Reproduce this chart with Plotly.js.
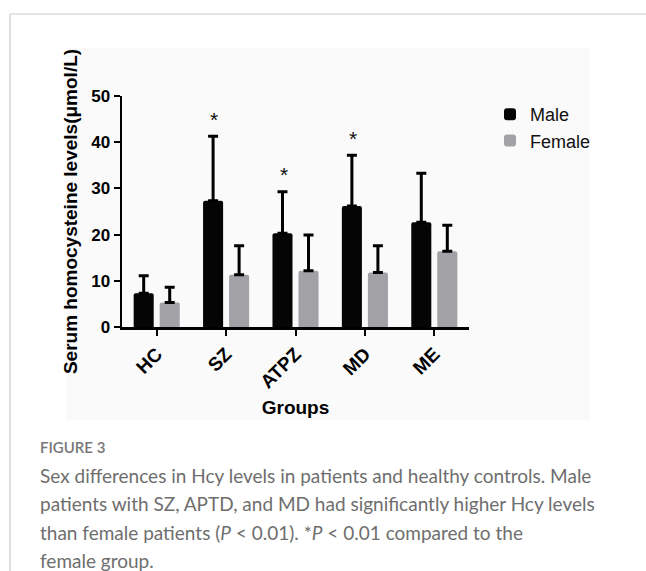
<!DOCTYPE html>
<html>
<head>
<meta charset="utf-8">
<script src="https://cdn.plot.ly/plotly-3.0.1.min.js"></script>
<style>
  html, body { margin: 0; padding: 0; background: #ffffff; }
  #chart { width: 646px; height: 571px; }
</style>
</head>
<body>
<div id="chart"></div>
<script>
// ---- data ----
const categories = ['HC', 'SZ', 'ATPZ', 'MD', 'ME'];
const maleMean   = [7.3, 27.3, 20.3, 26.2, 22.7];
const maleSD     = [3.8, 14.0, 9.0, 11.0, 10.6];
const femaleMean = [5.3, 11.3, 12.2, 11.8, 16.4];
const femaleSD   = [3.3, 6.3, 7.7, 5.8, 5.6];
const significance = ['', '*', '*', '*', ''];
const yTickValues = [0, 10, 20, 30, 40, 50];

const captionLabel = 'FIGURE 3';
const captionLines = [
  'Sex differences in Hcy levels in patients and healthy controls. Male',
  'patients with SZ, APTD, and MD had significantly higher Hcy levels',
  'than female patients (<i>P</i> &lt; 0.01). *<i>P</i> &lt; 0.01 compared to the',
  'female group.'
];

// ---- layout helpers (pixel -> paper) ----
const W = 646, H = 571;
const M = { l: 122, r: 177, t: 96, b: 244 };
const plotW = W - M.l - M.r, plotH = H - M.t - M.b;
const px = x => (x - M.l) / plotW;
const py = y => (H - M.b - y) / plotH;

const boldFont = { family: 'Liberation Sans, Arial, sans-serif', weight: 'bold', color: '#000' };
const zeros = maleSD.map(() => 0);

const traces = [
  {
    type: 'bar', name: 'Male', x: categories, y: maleMean,
    marker: { color: '#050505', cornerradius: 2 },
    error_y: { type: 'data', symmetric: false, array: maleSD, arrayminus: zeros,
               color: '#000', thickness: 3, width: 5 }
  },
  {
    type: 'bar', name: 'Female', x: categories, y: femaleMean,
    marker: { color: '#a2a2a6', cornerradius: 2 },
    error_y: { type: 'data', symmetric: false, array: femaleSD, arrayminus: zeros,
               color: '#000', thickness: 3, width: 5 }
  }
];

const annotations = [];
categories.forEach((c, i) => {
  if (significance[i]) {
    annotations.push({
      x: c, y: maleMean[i] + maleSD[i], xref: 'x', yref: 'y',
      text: significance[i], showarrow: false, xshift: -12, yshift: 17,
      font: { family: 'Liberation Sans, Arial, sans-serif', size: 21, color: '#111' }
    });
  }
});
annotations.push({
  xref: 'paper', yref: 'paper', x: px(38), y: py(447), xanchor: 'left', yanchor: 'middle',
  text: captionLabel, showarrow: false,
  font: { family: 'Lato, Open Sans, sans-serif', size: 15, weight: 600, color: '#777' }
});
captionLines.forEach((t, i) => {
  annotations.push({
    xref: 'paper', yref: 'paper', x: px(38), y: py(475 + i * 28.5), xanchor: 'left', yanchor: 'middle',
    text: t, showarrow: false, align: 'left',
    font: { family: 'Lato, Open Sans, sans-serif', size: 19, color: '#6e6e6e' }
  });
});

const shapes = [
  // faint background of the figure image
  { type: 'rect', xref: 'paper', yref: 'paper', x0: px(66), x1: px(590), y0: py(420), y1: py(48),
    fillcolor: '#fafafa', line: { width: 0 }, layer: 'below' },
  // page frame lines
  { type: 'line', xref: 'paper', yref: 'paper', x0: px(10), x1: px(646), y0: py(14), y1: py(14),
    line: { color: '#cccccc', width: 1.2 } },
  { type: 'line', xref: 'paper', yref: 'paper', x0: px(10), x1: px(10), y0: py(14), y1: py(571),
    line: { color: '#cccccc', width: 1.2 } }
];

const layout = {
  width: W, height: H,
  margin: M,
  paper_bgcolor: '#ffffff',
  plot_bgcolor: 'rgba(0,0,0,0)',
  barmode: 'group',
  bargap: 0.25,
  bargroupgap: 0.23,
  showlegend: true,
  legend: {
    x: px(490), y: py(96), xanchor: 'left', yanchor: 'top',
    font: { family: 'Liberation Sans, Arial, sans-serif', size: 18, color: '#111' },
    bgcolor: 'rgba(0,0,0,0)', tracegroupgap: 0
  },
  xaxis: {
    type: 'category', range: [-0.5, 4.5],
    showline: true, linecolor: '#000', linewidth: 2.5,
    ticks: 'outside', ticklen: 6, tickwidth: 2, tickcolor: '#000',
    tickangle: -45, tickfont: Object.assign({ size: 19 }, boldFont),
    showgrid: false, zeroline: false,
    title: { text: 'Groups', font: Object.assign({ size: 19 }, boldFont), standoff: 10 }
  },
  yaxis: {
    range: [0, 50], tickvals: yTickValues,
    showline: true, linecolor: '#000', linewidth: 2.5,
    ticks: 'outside', ticklen: 6, tickwidth: 2, tickcolor: '#000',
    tickfont: Object.assign({ size: 17 }, boldFont),
    showgrid: false, zeroline: false,
    title: { text: 'Serum homocysteine levels(μmol/L)', font: Object.assign({ size: 19 }, boldFont), standoff: 9 }
  },
  annotations: annotations,
  shapes: shapes
};

Plotly.newPlot('chart', traces, layout, { staticPlot: true, displayModeBar: false });
</script>
</body>
</html>
